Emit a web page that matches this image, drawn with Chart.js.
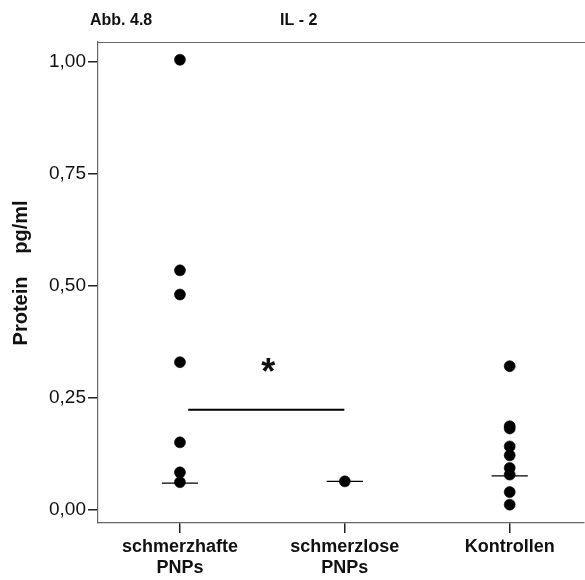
<!DOCTYPE html>
<html>
<head>
<meta charset="utf-8">
<script src="https://cdn.jsdelivr.net/npm/chart.js@4"></script>
<style>
  html, body { margin: 0; padding: 0; background: #fff; overflow: hidden; }
  #wrap { width: 590px; height: 580px; position: relative; }
</style>
</head>
<body>
<div id="wrap"><canvas id="c"></canvas></div>
<script>
// ---- data ----
const figureLabel = 'Abb. 4.8';
const chartTitle = 'IL - 2';
const yAxisTitleParts = ['Protein', 'pg/ml'];
const categories = [['schmerzhafte', 'PNPs'], ['schmerzlose', 'PNPs'], ['Kontrollen']];
const groupPainful = [1.004, 0.534, 0.480, 0.329, 0.150, 0.083, 0.061];
const groupPainless = [0.063];
const groupControls = [0.320, 0.186, 0.181, 0.141, 0.121, 0.093, 0.078, 0.039, 0.011];
const medians = [0.059, 0.063, 0.075];
const yTicks = [0, 0.25, 0.5, 0.75, 1.0];
const sigBar = { from: 0.05, to: 0.997, value: 0.223, label: '*', labelX: 0.535, labelValue: 0.315 };

const medianHalfWidth = 0.11;

function pts(group, idx) { return group.map(v => ({ x: idx, y: v })); }

const datasets = [
  { type: 'scatter', data: pts(groupPainful, 0) },
  { type: 'scatter', data: pts(groupPainless, 1) },
  { type: 'scatter', data: pts(groupControls, 2) },
].map(d => Object.assign(d, {
  backgroundColor: '#000', borderColor: '#000', borderWidth: 0.6, pointRadius: 5.5, pointHoverRadius: 5.5
}));

medians.forEach((m, i) => {
  datasets.push({
    type: 'line',
    data: [{ x: i - medianHalfWidth, y: m }, { x: i + medianHalfWidth, y: m }],
    borderColor: '#000', borderWidth: 1.3, pointRadius: 0, fill: false
  });
});
datasets.push({
  type: 'line',
  data: [{ x: sigBar.from, y: sigBar.value }, { x: sigBar.to, y: sigBar.value }],
  borderColor: '#000', borderWidth: 2, pointRadius: 0, fill: false
});

const decor = {
  id: 'decor',
  afterDraw(chart) {
    const ctx = chart.ctx;
    const a = chart.chartArea;
    ctx.save();
    // top frame line
    ctx.strokeStyle = '#666';
    ctx.lineWidth = 1.2;
    ctx.beginPath();
    ctx.moveTo(a.left, a.top + 0.5);
    ctx.lineTo(chart.width, a.top + 0.5);
    ctx.stroke();
    // titles
    ctx.fillStyle = '#111';
    ctx.font = 'bold 16px "Liberation Sans", Arial, sans-serif';
    ctx.textBaseline = 'alphabetic';
    ctx.textAlign = 'left';
    ctx.fillText(figureLabel, 90, 25);
    ctx.fillText(chartTitle, 280, 25);
    // y axis title (two parts)
    ctx.font = 'bold 20px "Liberation Sans", Arial, sans-serif';
    ctx.textAlign = 'center';
    ctx.textBaseline = 'alphabetic';
    [[yAxisTitleParts[0], 311], [yAxisTitleParts[1], 227]].forEach(([t, cy]) => {
      ctx.save();
      ctx.translate(27, cy);
      ctx.rotate(-Math.PI / 2);
      ctx.fillText(t, 0, 0);
      ctx.restore();
    });
    // significance star
    const xs = chart.scales.x, ys = chart.scales.y;
    ctx.font = 'bold 36px "Liberation Sans", Arial, sans-serif';
    ctx.textAlign = 'center';
    ctx.textBaseline = 'middle';
    ctx.fillText(sigBar.label, xs.getPixelForValue(sigBar.labelX), ys.getPixelForValue(sigBar.labelValue) + 6);
    ctx.restore();
  }
};

new Chart(document.getElementById('c'), {
  data: { datasets },
  plugins: [decor],
  options: {
    responsive: true,
    maintainAspectRatio: false,
    animation: false,
    devicePixelRatio: 1,
    layout: { padding: { top: 42, left: 0, right: 0, bottom: 0 } },
    plugins: { legend: { display: false }, tooltip: { enabled: false }, title: { display: false } },
    scales: {
      x: {
        type: 'linear',
        min: -0.497,
        max: 2.45,
        afterBuildTicks: s => { s.ticks = categories.map((_, i) => ({ value: i })); },
        afterFit: s => { s.height = 57; },
        ticks: {
          callback: v => categories[v],
          color: '#111',
          font: { family: '"Liberation Sans", Arial, sans-serif', size: 18, weight: 'bold' },
          padding: 3,
          maxRotation: 0,
          autoSkip: false
        },
        grid: { drawOnChartArea: false, drawTicks: true, tickLength: 10, color: '#222', lineWidth: 1.5 },
        border: { display: true, color: '#666', width: 1.2 }
      },
      y: {
        type: 'linear',
        min: -0.03,
        max: 1.0436,
        afterBuildTicks: s => { s.ticks = yTicks.map(v => ({ value: v })); },
        afterFit: s => { s.width = 98; },
        ticks: {
          callback: v => v.toFixed(2).replace('.', ','),
          color: '#111',
          font: { family: '"Liberation Sans", Arial, sans-serif', size: 19 },
          padding: 2
        },
        grid: { drawOnChartArea: false, drawTicks: true, tickLength: 10, color: '#222', lineWidth: 1.5 },
        border: { display: true, color: '#666', width: 1.2 }
      }
    }
  }
});
</script>
</body>
</html>
